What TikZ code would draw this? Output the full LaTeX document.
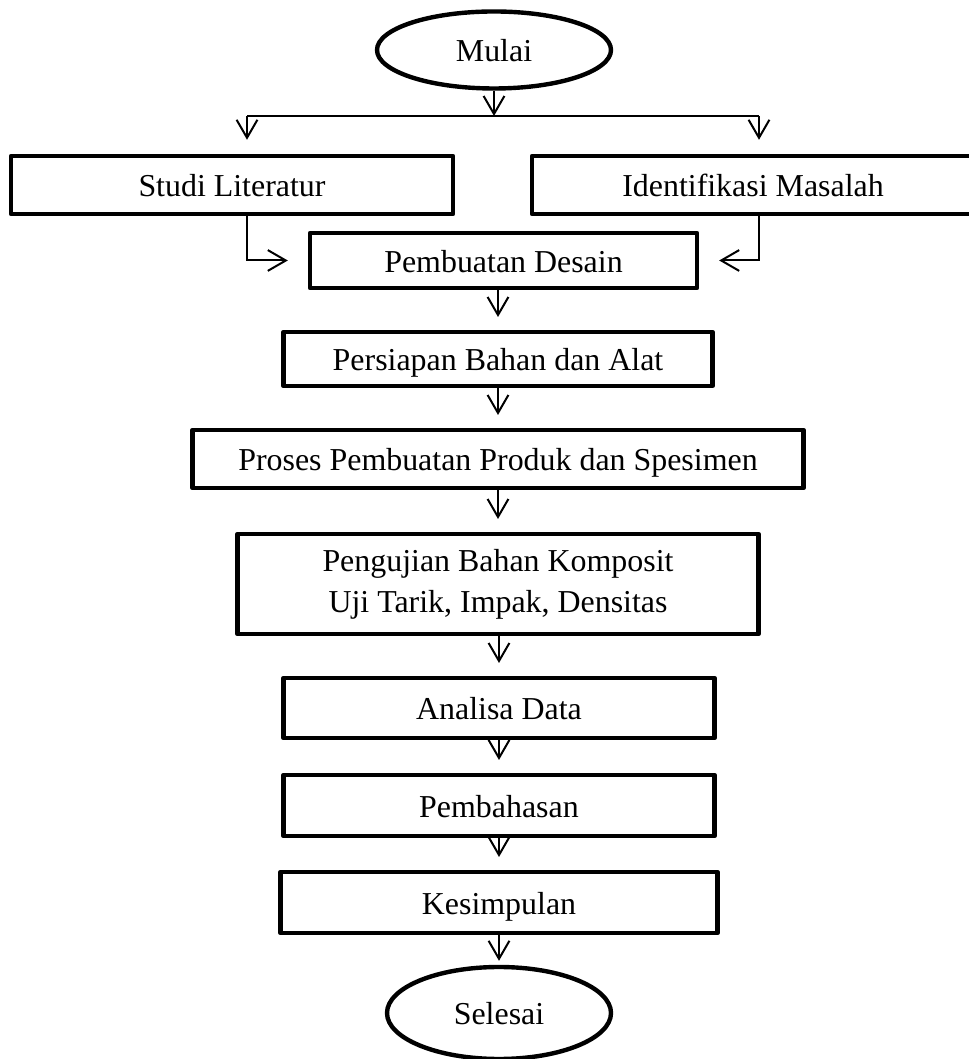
\documentclass[tikz,border=0pt]{standalone}
\usepackage{fontspec}
\setmainfont{Liberation Serif}
\usepackage{tikz}
\usetikzlibrary{shapes.geometric,arrows.meta}

\tikzset{
  box/.style={draw, line width=0.11cm, line join=round, inner sep=0pt,
    font=\fontsize{22.7pt}{29pt}\selectfont},
  stage/.style={box, rectangle, text height=17pt, text depth=0pt},
  terminal/.style={box, ellipse, text height=17pt, text depth=0pt},
  arr/.style={line width=0.05cm, shorten >=0.32cm,
    -{Straight Barb[length=0.45cm,width=0.52cm]}},
}

\begin{document}
\begin{tikzpicture}

      \useasboundingbox (0,0) rectangle (24.225,26.475);

      % start
      \node[terminal, minimum width=5.85cm, minimum height=1.925cm] (mulai) at (12.35,25.225) {Mulai};

      % branch
      \coordinate (split) at (12.35,23.575);
      \coordinate (splitL) at (6.175,23.575);
      \coordinate (splitR) at (18.975,23.575);

      % first row
      \node[stage, minimum width=11.05cm, minimum height=1.45cm] (studi) at (5.8,21.85) {Studi Literatur};
      \node[stage, minimum width=11.05cm, minimum height=1.45cm] (identifikasi) at (18.825,21.85) {Identifikasi Masalah};

      % main column
      \node[stage, minimum width=9.675cm, minimum height=1.375cm] (desain) at (12.5875,19.9625) {Pembuatan Desain};
      \node[stage, minimum width=10.725cm, minimum height=1.35cm] (persiapan) at (12.45,17.5) {Persiapan Bahan dan Alat};
      \node[stage, minimum width=15.275cm, minimum height=1.45cm] (proses) at (12.45,15.0) {Proses Pembuatan Produk dan Spesimen};
      \node[box, align=center, minimum width=13.025cm, minimum height=2.5cm] (pengujian) at (12.45,11.875) {Pengujian Bahan Komposit\\Uji Tarik, Impak, Densitas};
      \node[stage, minimum width=10.775cm, minimum height=1.5cm] (analisa) at (12.475,8.775) {Analisa Data};
      \node[stage, minimum width=10.775cm, minimum height=1.525cm] (pembahasan) at (12.475,6.3375) {Pembahasan};
      \node[stage, minimum width=10.925cm, minimum height=1.525cm] (kesimpulan) at (12.475,3.9125) {Kesimpulan};

      % end
      \node[terminal, minimum width=5.6cm, minimum height=2.3cm] (selesai) at (12.475,1.15) {Selesai};

      % connectors
      \draw [arr, shorten >=0pt] (mulai) -- (split);
      \draw [line width=0.05cm] (splitL) -- (splitR);
      \draw [arr, shorten >=0.35cm] (splitL) -- (splitL |- studi.north);
      \draw [arr, shorten >=0.35cm] (splitR) -- (splitR |- identifikasi.north);
      \draw [arr, shorten >=0.5cm] (studi.south -| splitL) |- (desain.west);
      \draw [arr, shorten >=0.5cm] (identifikasi.south -| splitR) |- (desain.east);
      \draw [arr] (desain.south -| persiapan) -- (persiapan.north);
      \draw [arr] (persiapan) -- (proses);
      \draw [arr] (proses) -- (pengujian);
      \draw [arr] (pengujian.south -| analisa) -- (analisa.north);
      \draw [arr] (analisa) -- (pembahasan);
      \draw [arr] (pembahasan) -- (kesimpulan);
      \draw [arr, shorten >=0.1cm] (kesimpulan) -- (selesai);

\end{tikzpicture}
\end{document}
